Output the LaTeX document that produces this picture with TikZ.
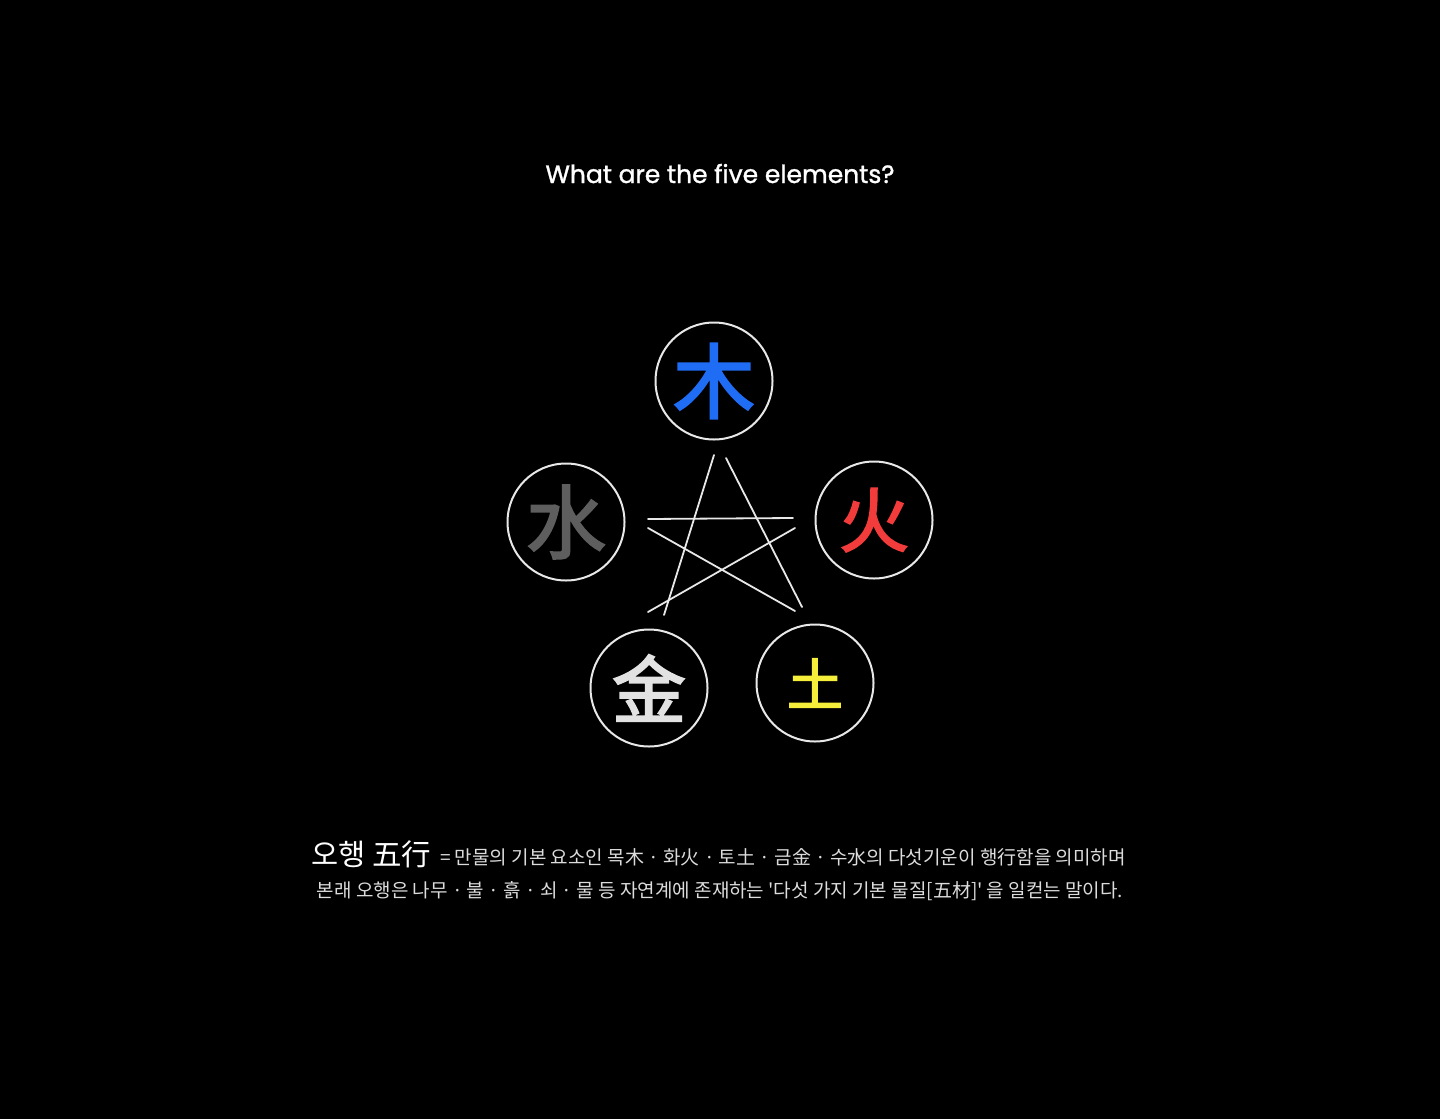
\documentclass[tikz,border=0pt]{standalone}
\usepackage{fontspec}
\newfontfamily\poppins{Poppins}[FakeBold=1.2]
\newfontfamily\krfont{Noto Sans CJK KR}
\newfontfamily\hanfont{Noto Sans CJK SC}[FakeBold=2.5]
\usetikzlibrary{decorations.pathmorphing}
\definecolor{woodc}{HTML}{1F6CF5}
\definecolor{firec}{HTML}{F23B3B}
\definecolor{earthc}{HTML}{F5EE3A}
\definecolor{metalc}{HTML}{E2E2E2}
\definecolor{waterc}{HTML}{5E5E5E}
\definecolor{chalk}{HTML}{E8E8E8}
\definecolor{bodytext}{HTML}{DCDCDC}
\begin{document}
\begin{tikzpicture}[x=1pt,y=-1pt,
  elem/.style={circle,draw=chalk,line width=2pt,minimum size=117pt,inner sep=0pt},
  starline/.style={draw=chalk,line width=1.8pt,line cap=round},
  bodyline/.style={text=bodytext,inner sep=0pt,font=\krfont\fontsize{19}{23}\selectfont}]
\fill[black] (0,0) rectangle (1440,1119);
\useasboundingbox (0,0) rectangle (1440,1119);

\node[text=white,inner sep=0pt,anchor=base,font=\poppins\fontsize{25}{29}\selectfont] (title) at (720,183) {What are the five elements?};

\node[elem,text=woodc,font=\hanfont\fontsize{82}{82}\selectfont] (wood) at (714,381) {木};
\node[elem,text=firec,font=\hanfont\fontsize{70}{70}\selectfont] (fire) at (874,520) {火};
\node[elem,text=earthc,font=\hanfont\fontsize{56}{56}\selectfont] (earth) at (815,683) {土};
\node[elem,text=metalc,font=\hanfont\fontsize{74}{74}\selectfont] (metal) at (649,688) {金};
\node[elem,text=waterc,font=\hanfont\fontsize{80}{80}\selectfont] (water) at (566,522) {水};

\coordinate (s1a) at (714,455); \coordinate (s1b) at (664,615);
\coordinate (s2a) at (726,458); \coordinate (s2b) at (802,607);
\coordinate (s3a) at (648,519); \coordinate (s3b) at (793,518);
\coordinate (s4a) at (648,528); \coordinate (s4b) at (795,611);
\coordinate (s5a) at (795,528); \coordinate (s5b) at (648,612);
\draw[starline] (s1a) -- (s1b);
\draw[starline] (s2a) -- (s2b);
\draw[starline] (s3a) -- (s3b);
\draw[starline] (s4a) -- (s4b);
\draw[starline] (s5a) -- (s5b);

\node[text=white,inner sep=0pt,anchor=base west,font=\krfont\fontsize{29.5}{33}\selectfont] (head) at (311,865) {오행 五行};
\node[bodyline,anchor=base west] (desc1) at (440,864) {= 만물의 기본 요소인 목木 · 화火 · 토土 · 금金 · 수水의 다섯기운이 행行함을 의미하며};
\node[bodyline,anchor=base] (desc2) at (720,897) {본래 오행은 나무 · 불 · 흙 · 쇠 ·  물 등 자연계에 존재하는 '다섯 가지 기본 물질[五材]' 을 일컫는 말이다.};
\end{tikzpicture}
\end{document}
